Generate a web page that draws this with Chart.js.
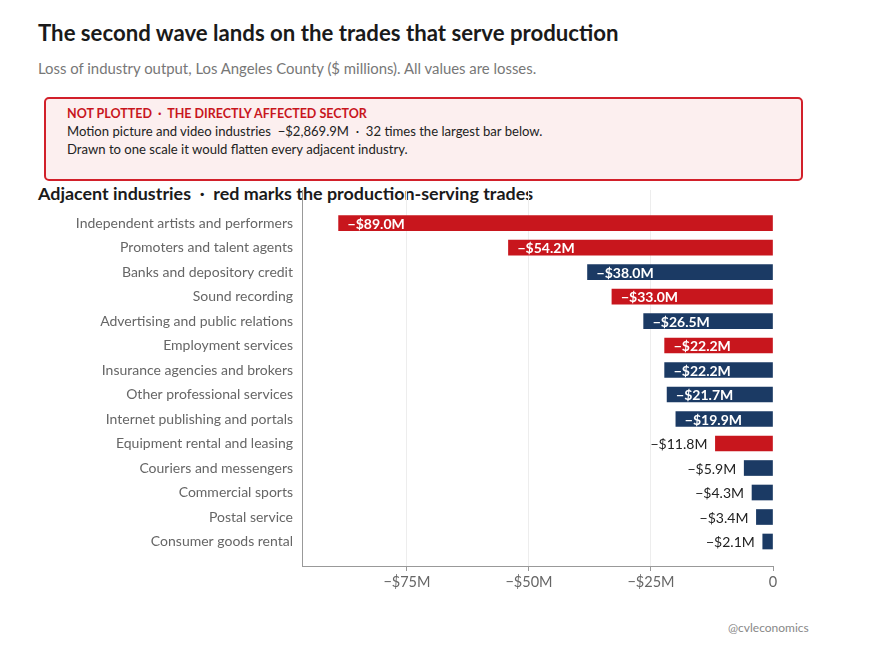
<!DOCTYPE html>
<html>
<head>
<meta charset="utf-8">
<script src="https://cdn.jsdelivr.net/npm/chart.js@4/dist/chart.umd.min.js"></script>
<style>
  html, body { margin: 0; padding: 0; background: #fff; }
  body { width: 882px; height: 658px; position: relative; overflow: hidden; font-family: Lato, "Noto Sans", sans-serif; }
  .txt { position: absolute; white-space: nowrap; }
  #title { left: 38px; top: 19px; font-size: 22.2px; line-height: 28px; font-weight: 700; color: #1a1a1a; }
  #subtitle { left: 38px; top: 58px; font-size: 14.9px; line-height: 20px; color: #777; }
  #note { position: absolute; left: 44px; top: 97px; width: 759px; height: 84px; box-sizing: border-box;
          border: 2px solid #d2202a; border-radius: 5px; background: #fcefef; }
  #noteHead { left: 21px; top: 7px; font-size: 12.5px; line-height: 16px; font-weight: 700; color: #c8161d; }
  #noteL1 { left: 21px; top: 24px; font-size: 13.1px; line-height: 16px; color: #222; }
  #noteL2 { left: 21px; top: 42px; font-size: 13.1px; line-height: 16px; color: #222; }
  #heading { left: 38px; top: 182px; font-size: 17.9px; line-height: 22px; font-weight: 700; color: #1a1a1a; }
  #credit { left: 728px; top: 620px; font-size: 12px; line-height: 16px; color: #888; }
  #wrap { position: absolute; left: 0; top: 0; width: 882px; height: 658px; pointer-events: none; }
</style>
</head>
<body>
<div class="txt" id="title">The second wave lands on the trades that serve production</div>
<div class="txt" id="subtitle">Loss of industry output, Los Angeles County ($ millions). All values are losses.</div>
<div id="note">
  <div class="txt" id="noteHead">NOT PLOTTED &nbsp;·&nbsp; THE DIRECTLY AFFECTED SECTOR</div>
  <div class="txt" id="noteL1">Motion picture and video industries &nbsp;−$2,869.9M &nbsp;·&nbsp; 32 times the largest bar below.</div>
  <div class="txt" id="noteL2">Drawn to one scale it would flatten every adjacent industry.</div>
</div>
<div class="txt" id="heading">Adjacent industries &nbsp;·&nbsp; red marks the production-serving trades</div>
<div class="txt" id="credit">@cvleconomics</div>
<div id="wrap"><canvas id="chart"></canvas></div>

<script>
// Data: loss of industry output, $ millions
const industries = [
  "Independent artists and performers",
  "Promoters and talent agents",
  "Banks and depository credit",
  "Sound recording",
  "Advertising and public relations",
  "Employment services",
  "Insurance agencies and brokers",
  "Other professional services",
  "Internet publishing and portals",
  "Equipment rental and leasing",
  "Couriers and messengers",
  "Commercial sports",
  "Postal service",
  "Consumer goods rental"
];
const losses = [-89.0, -54.2, -38.0, -33.0, -26.5, -22.2, -22.2, -21.7, -19.9, -11.8, -5.9, -4.3, -3.4, -2.1];
// true = production-serving trade (red)
const productionServing = [true, true, false, true, false, true, false, false, false, true, false, false, false, false];
const xTicks = [-75, -50, -25, 0];

const RED = "#c8161d";
const NAVY = "#1b3a64";
const FONT = "Lato, 'Noto Sans', sans-serif";

function fmtMoney(v) {
  return "\u2212$" + Math.abs(v).toFixed(1) + "M";
}

// Value labels: inside the bar when it fits, otherwise to its left
const valueLabels = {
  id: "valueLabels",
  afterDatasetsDraw(chart) {
    const ctx = chart.ctx;
    const meta = chart.getDatasetMeta(0);
    meta.data.forEach((bar, i) => {
      const text = fmtMoney(losses[i]);
      const left = Math.min(bar.x, bar.base);
      const width = Math.abs(bar.base - bar.x);
      ctx.save();
      ctx.textBaseline = "middle";
      ctx.font = "700 14px " + FONT;
      const tw = ctx.measureText(text).width;
      if (tw + 16 < width) {
        ctx.fillStyle = "#fff";
        ctx.textAlign = "left";
        ctx.fillText(text, left + 9, bar.y + 1);
      } else {
        ctx.font = "400 14px " + FONT;
        ctx.fillStyle = "#222";
        ctx.textAlign = "right";
        ctx.fillText(text, left - 8, bar.y + 1);
      }
      ctx.restore();
    });
  }
};

new Chart(document.getElementById("chart"), {
  type: "bar",
  data: {
    datasets: [{
      data: losses.map((v, i) => ({ x: v, y: i })),
      backgroundColor: productionServing.map(p => p ? RED : NAVY),
      borderWidth: 0,
      barThickness: 15
    }]
  },
  options: {
    indexAxis: "y",
    responsive: true,
    maintainAspectRatio: false,
    animation: false,
    layout: { padding: { top: 190, right: 109, bottom: 62, left: 0 } },
    plugins: {
      legend: { display: false },
      tooltip: { enabled: false }
    },
    scales: {
      x: {
        type: "linear",
        bounds: "data",
        min: -96.5,
        max: 0,
        afterBuildTicks: s => { s.ticks = xTicks.map(v => ({ value: v })); },
        afterFit: s => { s.height = 30; },
        grid: {
          color: c => (c.tick && c.tick.value === 0) ? "rgba(0,0,0,0)" : "#ededed",
          tickLength: 5,
          tickColor: "#999"
        },
        border: { color: "#999" },
        ticks: {
          color: "#666",
          padding: 3,
          font: { family: FONT, size: 14.5 },
          callback: v => v === 0 ? "0" : "\u2212$" + Math.abs(v) + "M"
        }
      },
      y: {
        type: "linear",
        bounds: "data",
        offset: false,
        reverse: true,
        min: -1.35,
        max: 14.0,
        afterBuildTicks: s => { s.ticks = industries.map((_, i) => ({ value: i })); },
        afterFit: s => { s.width = 302; },
        grid: { display: false, drawTicks: false, offset: false },
        border: { color: "#999" },
        ticks: {
          color: "#666",
          padding: 9,
          autoSkip: false,
          font: { family: FONT, size: 14 },
          callback: v => industries[v] ?? ""
        }
      }
    }
  },
  plugins: [valueLabels]
});
</script>
</body>
</html>
